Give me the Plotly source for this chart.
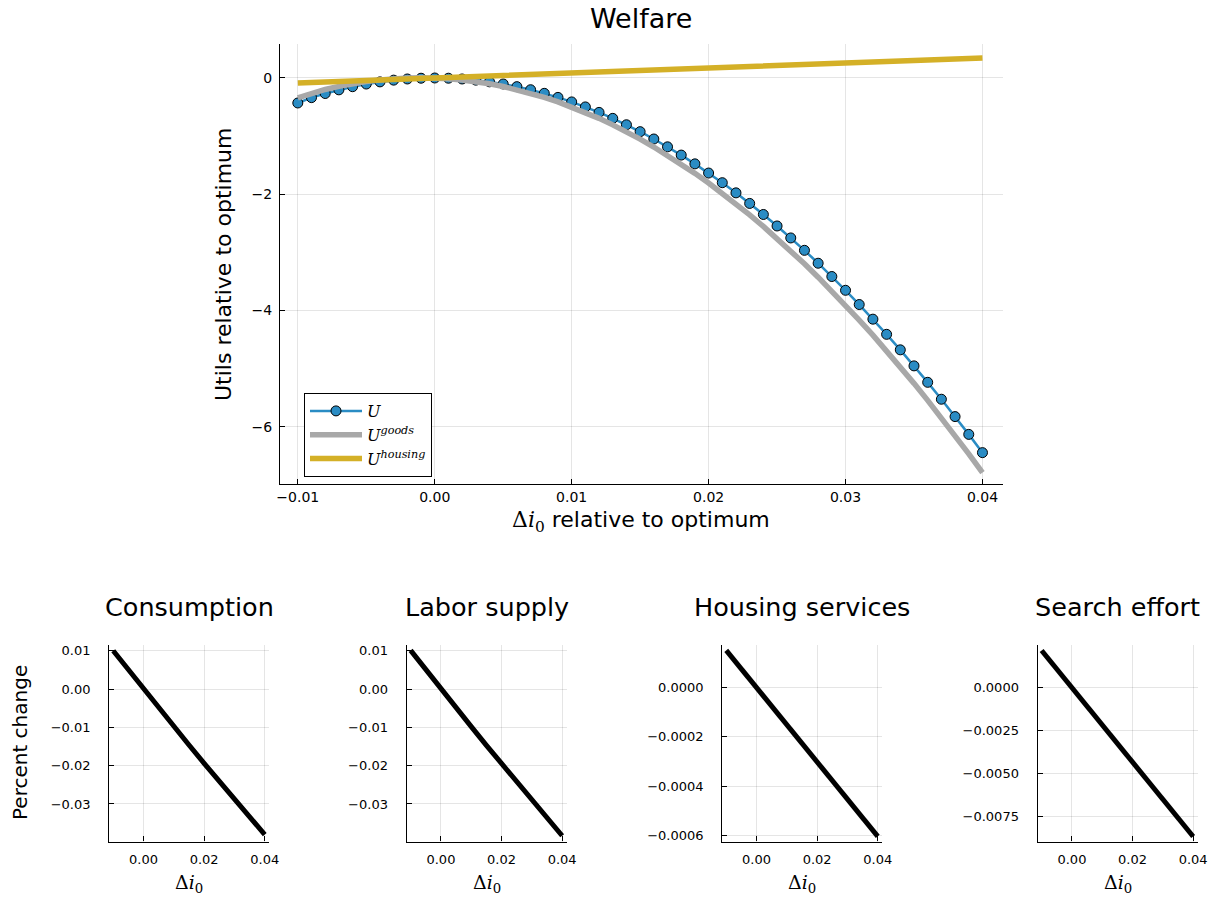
import plotly.graph_objects as go

# Interest-rate deviation grid (relative to optimum)
di0 = [-0.010, -0.009, -0.008, -0.007, -0.006, -0.005, -0.004, -0.003, -0.002, -0.001,
       0.000, 0.001, 0.002, 0.003, 0.004, 0.005, 0.006, 0.007, 0.008, 0.009,
       0.010, 0.011, 0.012, 0.013, 0.014, 0.015, 0.016, 0.017, 0.018, 0.019,
       0.020, 0.021, 0.022, 0.023, 0.024, 0.025, 0.026, 0.027, 0.028, 0.029,
       0.030, 0.031, 0.032, 0.033, 0.034, 0.035, 0.036, 0.037, 0.038, 0.039, 0.040]

# Total welfare
U = [-0.430, -0.338, -0.267, -0.204, -0.150, -0.104, -0.067, -0.037, -0.017, -0.004,
     0.000, -0.004, -0.017, -0.037, -0.066, -0.103, -0.149, -0.202, -0.264, -0.334,
     -0.412, -0.498, -0.592, -0.695, -0.805, -0.924, -1.050, -1.185, -1.327, -1.478,
     -1.636, -1.802, -1.977, -2.159, -2.349, -2.547, -2.753, -2.966, -3.188, -3.417,
     -3.654, -3.899, -4.151, -4.412, -4.679, -4.955, -5.238, -5.529, -5.828, -6.134, -6.448]

# Welfare from goods consumption
U_goods = [-0.344, -0.261, -0.198, -0.144, -0.098, -0.061, -0.033, -0.011, 0.000, 0.005,
           0.000, -0.013, -0.034, -0.063, -0.100, -0.146, -0.201, -0.262, -0.333, -0.411,
           -0.498, -0.593, -0.695, -0.807, -0.925, -1.053, -1.188, -1.331, -1.482, -1.641,
           -1.808, -1.983, -2.166, -2.357, -2.555, -2.762, -2.977, -3.198, -3.429, -3.666,
           -3.912, -4.166, -4.426, -4.696, -4.971, -5.256, -5.548, -5.847, -6.155, -6.469, -6.792]

# Welfare from housing
U_housing = [-0.086, -0.077, -0.069, -0.060, -0.052, -0.043, -0.034, -0.026, -0.017, -0.009,
             0.000, 0.009, 0.017, 0.026, 0.034, 0.043, 0.052, 0.060, 0.069, 0.077,
             0.086, 0.095, 0.103, 0.112, 0.120, 0.129, 0.138, 0.146, 0.155, 0.163,
             0.172, 0.181, 0.189, 0.198, 0.206, 0.215, 0.224, 0.232, 0.241, 0.249,
             0.258, 0.267, 0.275, 0.284, 0.292, 0.301, 0.310, 0.318, 0.327, 0.335, 0.344]

# Coarser grid for the percent-change panels
di0_small = [-0.010, -0.005, 0.000, 0.005, 0.010, 0.015, 0.020, 0.025, 0.030, 0.035, 0.040]
consumption = [0.0100, 0.0050, 0.0, -0.0049, -0.0098, -0.0146, -0.0194, -0.0241, -0.0288, -0.0334, -0.0380]
labor_supply = [0.0101, 0.0050, 0.0, -0.0049, -0.0098, -0.0147, -0.0195, -0.0243, -0.0290, -0.0337, -0.0383]
housing_services = [0.000151, 0.0000755, 0.0, -0.0000755, -0.000151, -0.0002265, -0.000302,
                    -0.0003775, -0.000453, -0.0005285, -0.000604]
search_effort = [0.00217, 0.001085, 0.0, -0.001085, -0.00217, -0.003255, -0.00434,
                 -0.005425, -0.00651, -0.007595, -0.00868]

panel_titles = ["Consumption", "Labor supply", "Housing services", "Search effort"]
panel_series = [consumption, labor_supply, housing_services, search_effort]

W, H = 1222, 898
SANS = "DejaVu Sans"
SERIF = "DejaVu Serif"
BLUE = "#2a8cc4"
GRAY = "#a8a8a8"
GOLD = "#d4b027"
GRID = "rgba(0,0,0,0.10)"


def px_x(p):
    return p / W


def px_y(p):
    return 1 - p / H


fig = go.Figure()

# Main welfare panel
fig.add_trace(go.Scatter(
    x=di0, y=U, mode="lines+markers", name="<i>U</i>",
    line=dict(color=BLUE, width=2.5),
    marker=dict(size=10, color=BLUE, line=dict(color="black", width=1)),
    xaxis="x", yaxis="y"))
fig.add_trace(go.Scatter(
    x=di0, y=U_goods, mode="lines", name="<i>U</i><sup><i>goods</i></sup>",
    line=dict(color=GRAY, width=5.5), xaxis="x", yaxis="y"))
fig.add_trace(go.Scatter(
    x=di0, y=U_housing, mode="lines", name="<i>U</i><sup><i>housing</i></sup>",
    line=dict(color=GOLD, width=5.5), xaxis="x", yaxis="y"))

axis_common = dict(
    showline=True, linecolor="black", linewidth=1.3, mirror=False,
    ticks="inside", ticklen=5, tickcolor="black", tickwidth=1,
    showgrid=True, gridcolor=GRID, gridwidth=1, zeroline=False,
    automargin=False,
    tickfont=dict(family=SANS, size=14, color="black"),
)

layout = dict(
    width=W, height=H,
    margin=dict(l=0, r=0, t=0, b=0, autoexpand=False),
    paper_bgcolor="white", plot_bgcolor="white",
    showlegend=True,
    legend=dict(
        x=px_x(304), y=px_y(393), xanchor="left", yanchor="top",
        bgcolor="white", bordercolor="black", borderwidth=1,
        font=dict(family=SERIF, size=16, color="black"),
        tracegroupgap=0, itemwidth=52,
    ),
    xaxis=dict(axis_common, domain=[px_x(280), px_x(1003)], anchor="y",
               range=[-0.0113, 0.0415], tickvals=[-0.01, 0.0, 0.01, 0.02, 0.03, 0.04],
               tickformat=".2f"),
    yaxis=dict(axis_common, domain=[px_y(484), px_y(44)], anchor="x",
               range=[-6.988, 0.585], tickvals=[0, -2, -4, -6], tickformat="d",
               ticklabelstandoff=4),
)


def label(text, x, y, size, family=SANS, angle=0):
    return dict(text=text, x=px_x(x), y=px_y(y), xref="paper", yref="paper",
                xanchor="center", yanchor="middle", showarrow=False, textangle=angle,
                font=dict(family=family, size=size, color="black"))


annotations = [
    label("Welfare", 641, 19, 27),
    label("<span style=\"font-family:DejaVu Serif\">Δ<i>i</i><sub>0</sub></span> relative to optimum",
          641, 521, 22),
    label("Utils relative to optimum", 223, 265, 22, angle=-90),
    label("Percent change", 20, 743, 20, angle=-90),
]

# Small percent-change panels
panel_left = [109.3, 406.7, 722.3, 1037.7]
panel_w = 160
panel_top, panel_bot = 645, 841.5
panel_ranges = [[-0.0398, 0.0115], [-0.0398, 0.0115], [-0.000625, 0.000173], [-0.00897, 0.00249]]
panel_ticks = [
    ([0.01, 0.0, -0.01, -0.02, -0.03], ".2f"),
    ([0.01, 0.0, -0.01, -0.02, -0.03], ".2f"),
    ([0.0, -0.0002, -0.0004, -0.0006], ".4f"),
    ([0.0, -0.0025, -0.005, -0.0075], ".4f"),
]

for i, (title, series) in enumerate(zip(panel_titles, panel_series)):
    n = i + 2
    xa, ya = f"x{n}", f"y{n}"
    fig.add_trace(go.Scatter(
        x=di0_small, y=series, mode="lines", showlegend=False,
        line=dict(color="black", width=5), xaxis=xa, yaxis=ya))
    left = panel_left[i]
    layout[f"xaxis{n}"] = dict(axis_common, domain=[px_x(left), px_x(left + panel_w)],
                               anchor=ya, range=[-0.0113, 0.0415],
                               tickvals=[0.0, 0.02, 0.04], tickformat=".2f",
                               ticklabelstandoff=6,
                               tickfont=dict(family=SANS, size=13, color="black"))
    tv, tf = panel_ticks[i]
    layout[f"yaxis{n}"] = dict(axis_common, domain=[px_y(panel_bot), px_y(panel_top)],
                               anchor=xa, range=panel_ranges[i], tickvals=tv, tickformat=tf,
                               ticklabelstandoff=15,
                               tickfont=dict(family=SANS, size=13, color="black"))
    cx = left + panel_w / 2
    annotations.append(label(title, cx, 607, 25.5))
    annotations.append(label("Δ<i>i</i><sub>0</sub>", cx, 883, 19, family=SERIF))

layout["annotations"] = annotations
fig.update_layout(**layout)
fig.write_html("out.html")
